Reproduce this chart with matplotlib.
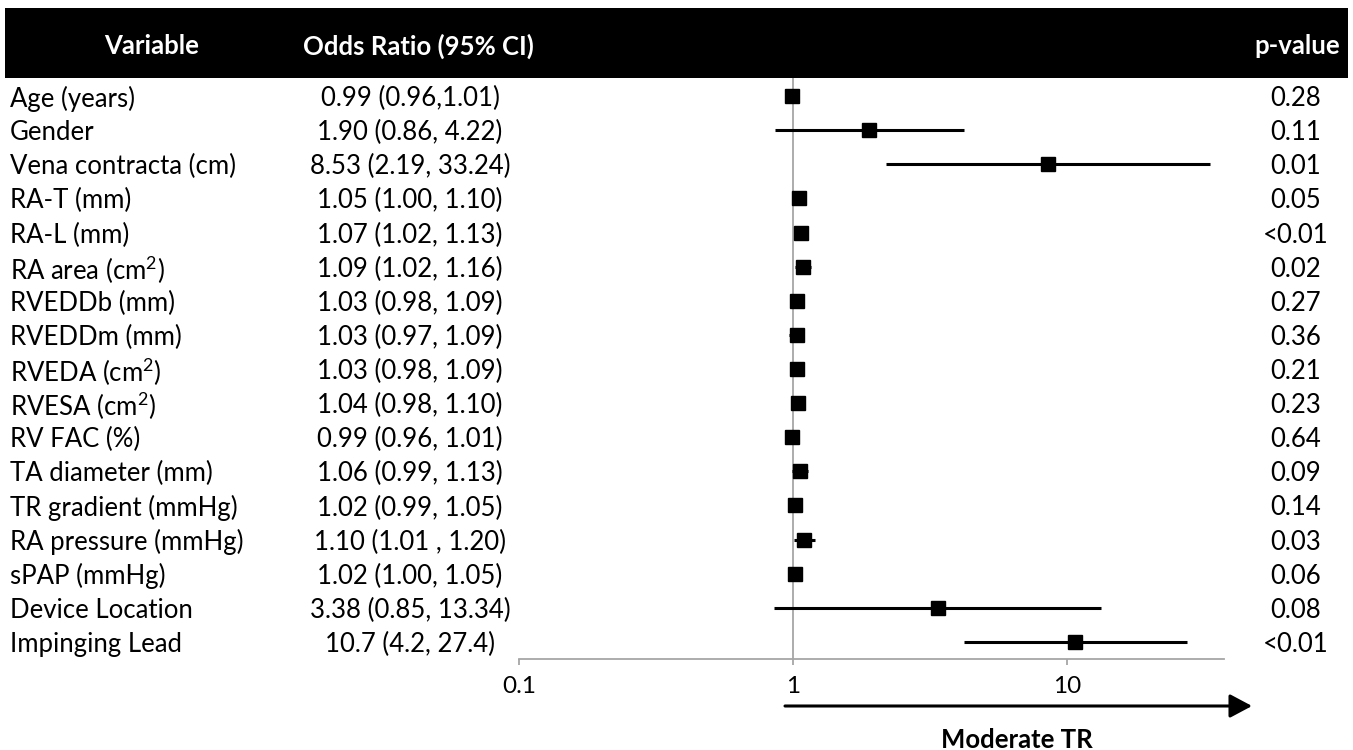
import numpy as np
import matplotlib.pyplot as plt
from matplotlib.patches import Rectangle

# forest plot data
variables = ['Age (years)', 'Gender', 'Vena contracta (cm)', 'RA-T (mm)', 'RA-L (mm)',
             'RA area (cm$^2$)', 'RVEDDb (mm)', 'RVEDDm (mm)', 'RVEDA (cm$^2$)', 'RVESA (cm$^2$)',
             'RV FAC (%)', 'TA diameter (mm)', 'TR gradient (mmHg)', 'RA pressure (mmHg)',
             'sPAP (mmHg)', 'Device Location', 'Impinging Lead']
odds = [0.99, 1.90, 8.53, 1.05, 1.07, 1.09, 1.03, 1.03, 1.03, 1.04, 0.99, 1.06, 1.02, 1.10, 1.02, 3.38, 10.7]
ci_low = [0.96, 0.86, 2.19, 1.00, 1.02, 1.02, 0.98, 0.97, 0.98, 0.98, 0.96, 0.99, 0.99, 1.01, 1.00, 0.85, 4.2]
ci_high = [1.01, 4.22, 33.24, 1.10, 1.13, 1.16, 1.09, 1.09, 1.09, 1.10, 1.01, 1.13, 1.05, 1.20, 1.05, 13.34, 27.4]
or_text = ['0.99 (0.96,1.01)', '1.90 (0.86, 4.22)', '8.53 (2.19, 33.24)', '1.05 (1.00, 1.10)',
           '1.07 (1.02, 1.13)', '1.09 (1.02, 1.16)', '1.03 (0.98, 1.09)', '1.03 (0.97, 1.09)',
           '1.03 (0.98, 1.09)', '1.04 (0.98, 1.10)', '0.99 (0.96, 1.01)', '1.06 (0.99, 1.13)',
           '1.02 (0.99, 1.05)', '1.10 (1.01 , 1.20)', '1.02 (1.00, 1.05)', '3.38 (0.85, 13.34)',
           '10.7 (4.2, 27.4)']
p_values = ['0.28', '0.11', '0.01', '0.05', '<0.01', '0.02', '0.27', '0.36', '0.21', '0.23',
            '0.64', '0.09', '0.14', '0.03', '0.06', '0.08', '<0.01']
x_ticks = [0.1, 1, 10]
x_ticklabels = ['0.1', '1', '10']

plt.rcParams['font.family'] = ['Lato', 'DejaVu Sans']
plt.rcParams['mathtext.fontset'] = 'custom'
plt.rcParams['mathtext.rm'] = 'Lato'
plt.rcParams['mathtext.it'] = 'Lato'
plt.rcParams['mathtext.default'] = 'regular'

FS = 18.5
W, H = 1353, 750
fig = plt.figure(figsize=(W / 100, H / 100), dpi=100)

# black header band
fig.patches.append(Rectangle((5 / W, 1 - 78 / H), 1343 / W, 70 / H, transform=fig.transFigure,
                             facecolor='black', edgecolor='none'))
hy = 1 - 44 / H
fig.text(152 / W, hy, 'Variable', color='white', fontsize=FS, fontweight='bold', ha='center', va='center_baseline')
fig.text(418 / W, hy, 'Odds Ratio (95% CI)', color='white', fontsize=FS, fontweight='bold', ha='center', va='center_baseline')
fig.text(1297 / W, hy, 'p-value', color='white', fontsize=FS, fontweight='bold', ha='center', va='center_baseline')

# forest axes (log scale)
ax_left, ax_right = 519 / W, 1224 / W
ax_top, ax_bot = 1 - 78 / H, 1 - 659 / H
ax = fig.add_axes([ax_left, ax_bot, ax_right - ax_left, ax_top - ax_bot])
ax.set_xscale('log')
ax.set_xlim(0.1, 37.4)
n = len(variables)
ax.set_ylim(16.5, -0.53)
ax.patch.set_alpha(0)

ax.axvline(1, color='#a6a6a6', lw=1.3, zorder=1)
y = np.arange(n)
ax.hlines(y, ci_low, ci_high, color='black', lw=2.2, zorder=2)
ax.plot(odds, y, 's', color='black', markersize=10.5, zorder=3)

for s in ['top', 'left', 'right']:
    ax.spines[s].set_visible(False)
ax.spines['bottom'].set_color('#a6a6a6')
ax.spines['bottom'].set_linewidth(1.3)
ax.set_yticks([])
ax.set_xticks(x_ticks)
ax.set_xticklabels(x_ticklabels, fontsize=17.5)
ax.xaxis.set_minor_locator(plt.NullLocator())
ax.tick_params(axis='x', which='major', direction='out', length=4, width=1.3, color='#a6a6a6', pad=8)

# table columns
for i in range(n):
    yt = ax.transData.transform((1, i))[1]
    yf = fig.transFigure.inverted().transform((0, yt))[1]
    fig.text(10 / W, yf, variables[i], fontsize=FS, ha='left', va='center_baseline')
    fig.text(410 / W, yf, or_text[i], fontsize=FS, ha='center', va='center_baseline')
    fig.text(1296 / W, yf, p_values[i], fontsize=FS, ha='center', va='center_baseline')

# arrow and label
ay = (659 - 706) / (659 - 78)
ax.annotate('', xy=((1252 - 519) / 705, ay), xytext=((785 - 519) / 705, ay), xycoords='axes fraction',
            arrowprops=dict(arrowstyle='-|>,head_length=1.35,head_width=0.72', color='black', lw=2.2,
                            shrinkA=0, shrinkB=0),
            annotation_clip=False)
ax.text((1017 - 519) / 705, (659 - 738) / (659 - 78), 'Moderate TR', transform=ax.transAxes,
        fontsize=FS, fontweight='bold', ha='center', va='center_baseline')

fig.savefig('out.png', dpi=100)
